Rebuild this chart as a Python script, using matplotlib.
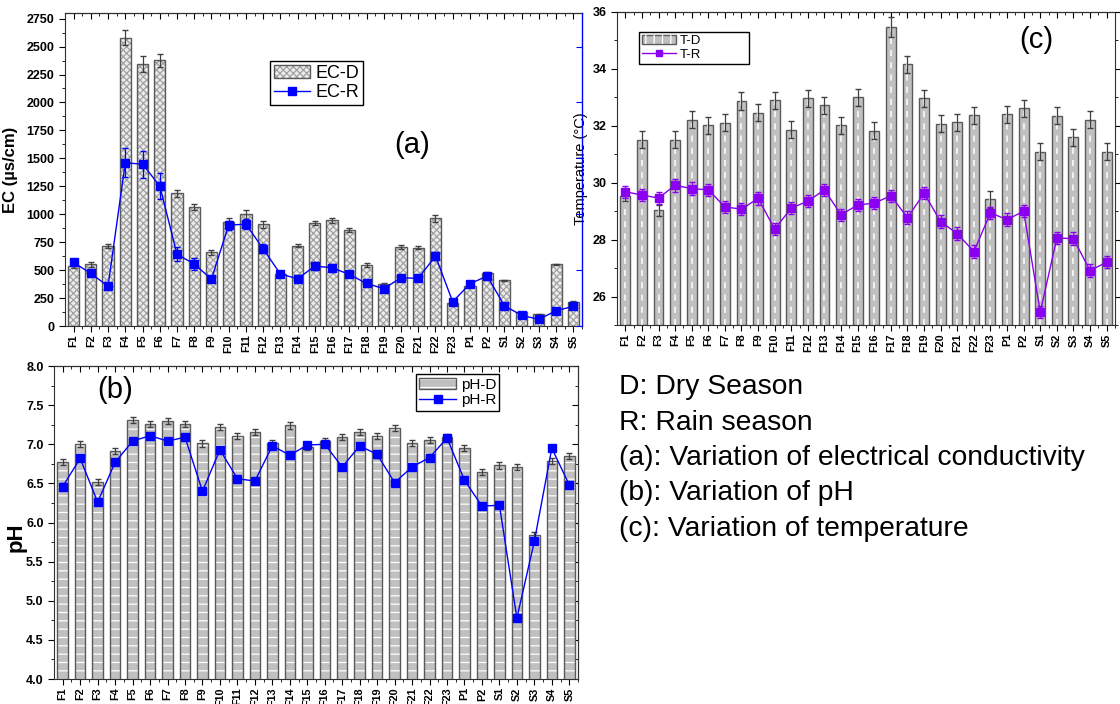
import numpy as np
import matplotlib
matplotlib.use("Agg")
import matplotlib.pyplot as plt
from matplotlib.ticker import MultipleLocator, FixedLocator, FormatStrFormatter

plt.rcParams['font.family'] = ['Liberation Sans', 'DejaVu Sans']
plt.rcParams['hatch.linewidth'] = 0.9

# sites
cats = ['F%d' % i for i in range(1, 24)] + ['P1', 'P2'] + ['S%d' % i for i in range(1, 6)]

# (a) electrical conductivity, us/cm
ec_d = [536, 551, 715, 2580, 2344, 2377, 1186, 1063, 658, 932, 998, 911, 462, 718, 923,
        944, 861, 545, 372, 706, 700, 962, 206, 357, 471, 408, 122, 104, 551, 211]
ec_d_err = [15, 25, 20, 70, 70, 60, 30, 25, 20, 30, 40, 30, 10, 15, 20,
            20, 20, 15, 15, 15, 15, 30, 5, 5, 15, 5, 5, 5, 5, 10]
ec_r = [569, 470, 357, 1460, 1448, 1254, 643, 554, 420, 903, 911, 691, 465, 423, 536,
        521, 462, 381, 334, 432, 426, 626, 217, 378, 447, 182, 95, 60, 137, 176]
ec_r_err = [15, 15, 30, 130, 120, 115, 60, 55, 25, 40, 45, 40, 10, 30, 35,
            35, 25, 10, 10, 15, 25, 35, 10, 10, 10, 10, 10, 10, 10, 10]

# (b) pH
ph_d = [6.77, 7.00, 6.52, 6.91, 7.31, 7.26, 7.30, 7.26, 7.01, 7.22, 7.11, 7.16, 7.01, 7.24, 6.97,
        7.04, 7.09, 7.16, 7.11, 7.21, 7.02, 7.05, 7.09, 6.95, 6.65, 6.73, 6.71, 5.84, 6.79, 6.85]
ph_r = [6.46, 6.82, 6.26, 6.77, 7.04, 7.11, 7.04, 7.09, 6.40, 6.93, 6.56, 6.53, 6.98, 6.86, 6.99,
        7.00, 6.71, 6.98, 6.87, 6.51, 6.71, 6.83, 7.08, 6.54, 6.21, 6.22, 4.78, 5.76, 6.95, 6.48]
ph_err = 0.04

# (c) temperature, deg C
t_d = [29.52, 31.51, 29.03, 31.51, 32.21, 32.02, 32.11, 32.87, 32.46, 32.90, 31.86, 32.96, 32.72, 32.02, 33.01,
       31.82, 35.46, 34.17, 32.96, 32.08, 32.12, 32.37, 29.41, 32.41, 32.62, 31.09, 32.36, 31.60, 32.21, 31.08]
t_d_err = [0.15, 0.3, 0.2, 0.3, 0.3, 0.3, 0.3, 0.3, 0.3, 0.3, 0.3, 0.3, 0.3, 0.3, 0.3,
           0.3, 0.35, 0.3, 0.3, 0.3, 0.3, 0.3, 0.3, 0.3, 0.3, 0.3, 0.3, 0.3, 0.3, 0.3]
t_r = [29.68, 29.57, 29.46, 29.91, 29.79, 29.75, 29.15, 29.07, 29.45, 28.37, 29.11, 29.35, 29.75, 28.87, 29.22,
       29.28, 29.54, 28.77, 29.63, 28.63, 28.21, 27.58, 28.94, 28.70, 29.00, 25.45, 28.06, 28.03, 26.91, 27.21]
t_r_err = 0.22

x = np.arange(1, len(cats) + 1)
BLUE = '#0000ff'
PURPLE = '#8a00f0'
EDGE = '#5a5a5a'
GREY = '#c0c0c0'


def style_axes(ax, ylim, major, minor, right_dir=None):
    ax.set_xlim(0.5, len(cats) + 0.5)
    ax.set_ylim(*ylim)
    ax.set_xticks(x)
    ax.set_xticklabels(cats, rotation=90, fontsize=7.8, fontweight='bold')
    ax.xaxis.set_minor_locator(FixedLocator(x + 0.5))
    ax.tick_params(axis='x', which='major', direction='out', length=4, pad=2)
    ax.tick_params(axis='x', which='minor', direction='out', length=2)
    ax.yaxis.set_major_locator(MultipleLocator(major))
    ax.yaxis.set_minor_locator(MultipleLocator(minor))
    ax.tick_params(axis='y', which='major', direction='out', length=4, labelsize=9)
    ax.tick_params(axis='y', which='minor', direction='out', length=2)
    for s in ax.spines.values():
        s.set_color('#303030')
    top = ax.secondary_xaxis('top')
    top.set_xticks(x, labels=[])
    top.xaxis.set_minor_locator(FixedLocator(x + 0.5))
    top.tick_params(which='major', direction='in', length=4)
    top.tick_params(which='minor', direction='in', length=2)
    if right_dir is not None:
        r = ax.secondary_yaxis('right')
        r.yaxis.set_major_locator(MultipleLocator(major))
        r.yaxis.set_minor_locator(MultipleLocator(minor))
        r.tick_params(which='both', direction=right_dir, labelright=False)
        r.tick_params(which='major', length=4)
        r.tick_params(which='minor', length=2.5)
        r.spines['right'].set_color('#303030')


def bold_yticks(ax):
    for lab in ax.get_yticklabels():
        lab.set_fontweight('bold')


def legend_box(ax, handles, labels, anchor, size, hl, mode=None):
    leg = ax.legend(handles, labels, loc='upper left', bbox_to_anchor=anchor, mode=mode,
                    fontsize=size, handlelength=hl, handletextpad=0.3, borderpad=0.22,
                    labelspacing=0.12, fancybox=False, edgecolor='black', framealpha=1,
                    borderaxespad=0)
    leg.get_frame().set_linewidth(1.0)
    return leg


fig = plt.figure(figsize=(11.2, 7.04), dpi=100)
ax_a = fig.add_axes([0.0580, 0.5369, 0.4616, 0.4446])
ax_c = fig.add_axes([0.5509, 0.5384, 0.4446, 0.4446])
ax_b = fig.add_axes([0.0482, 0.0355, 0.4679, 0.4446])

# ---- (a) EC ----
ax_a.bar(x, ec_d, width=0.65, color='#ececec', lw=0)
ax_a.bar(x, ec_d, width=0.65, color='none', edgecolor='#a2a2a2', lw=0, hatch='xxxxx')
ax_a.bar(x, ec_d, width=0.65, color='none', edgecolor=EDGE, lw=1.0)
ax_a.errorbar(x, ec_d, yerr=ec_d_err, fmt='none', ecolor='#404040', elinewidth=0.9, capsize=2.5)
ax_a.errorbar(x, ec_r, yerr=ec_r_err, color=BLUE, marker='s', ms=6, lw=1.0,
              elinewidth=0.9, capsize=2.5, zorder=5)
style_axes(ax_a, (0, 2800), 250, 125)
bold_yticks(ax_a)
ax_a.spines['right'].set_visible(False)
tw = ax_a.twinx()
tw.set_ylim(0, 2800)
tw.yaxis.set_major_locator(MultipleLocator(500))
tw.tick_params(axis='y', direction='in', length=4, color=BLUE, labelright=False)
tw.spines['right'].set_color(BLUE)
tw.spines['right'].set_linewidth(1.0)
for k in ('top', 'left', 'bottom'):
    tw.spines[k].set_visible(False)
ax_a.set_ylabel('EC (µs/cm)', fontsize=12, fontweight='bold')
ax_a.yaxis.set_label_coords(-0.091, 0.5)
ha = (plt.Rectangle((0, 0), 1, 1, facecolor='#ececec', lw=0),
      plt.Rectangle((0, 0), 1, 1, facecolor='none', edgecolor='#a2a2a2', lw=0, hatch='xxxxx'),
      plt.Rectangle((0, 0), 1, 1, facecolor='none', edgecolor=EDGE, lw=1))
hb, = ax_a.plot([], [], color=BLUE, marker='s', ms=6, lw=1.0)
legend_box(ax_a, [ha, hb], ['EC-D', 'EC-R'], (0.397, 0.847), 13, 2.0)
ax_a.text(0.671, 0.578, '(a)', transform=ax_a.transAxes, fontsize=21, ha='center', va='center')

# ---- (c) temperature ----
ax_c.bar(x, np.array(t_d) - 25, bottom=25, width=0.6, color=GREY, edgecolor=EDGE, lw=1.0)
ax_c.vlines(x, 25, t_d, colors='white', lw=1.1, linestyles=(0, (4, 4)))
ax_c.errorbar(x, t_d, yerr=t_d_err, fmt='none', ecolor='#404040', elinewidth=0.9, capsize=2.5)
ax_c.errorbar(x, t_r, yerr=t_r_err, color=PURPLE, marker='s', ms=6, lw=1.0,
              elinewidth=0.9, capsize=2.5, zorder=5)
style_axes(ax_c, (25, 36), 2, 1)
bold_yticks(ax_c)
ax_c.tick_params(axis='y', which='both', right=True)
ax_c.set_ylabel('Temperature (°C)', fontsize=10.5)
ax_c.yaxis.set_label_coords(-0.058, 0.5)
hc = (plt.Rectangle((0, 0), 1, 1, facecolor=GREY, edgecolor=EDGE, lw=1),
      plt.Rectangle((0, 0), 1, 1, facecolor='none', edgecolor='white', lw=0, hatch='||'))
hd, = ax_c.plot([], [], color=PURPLE, marker='s', ms=5, lw=1.0)
legend_box(ax_c, [hc, hd], ['T-D', 'T-R'], (0.044, 0.936, 0.221, 0.0), 9.5, 2.6, mode='expand')
ax_c.text(0.843, 0.911, '(c)', transform=ax_c.transAxes, fontsize=21, ha='center', va='center')

# ---- (b) pH ----
ph_base = 4.0
ph_h = np.array(ph_d) - ph_base
ax_b.bar(x, ph_h, bottom=ph_base, width=0.6, color=GREY, lw=0)
ax_b.bar(x, ph_h, bottom=ph_base, width=0.6, color='none', edgecolor='white', lw=0, hatch='--')
ax_b.bar(x, ph_h, bottom=ph_base, width=0.6, color='none', edgecolor=EDGE, lw=1.0)
ax_b.errorbar(x, ph_d, yerr=ph_err, fmt='none', ecolor='#404040', elinewidth=0.9, capsize=2.5)
ax_b.errorbar(x, ph_r, yerr=ph_err, color=BLUE, marker='s', ms=6, lw=1.0,
              elinewidth=0.9, capsize=2.5, zorder=5)
style_axes(ax_b, (4.0, 8.0), 0.5, 0.25, right_dir='in')
ax_b.yaxis.set_major_formatter(FormatStrFormatter('%.1f'))
bold_yticks(ax_b)
ax_b.set_ylabel('pH', fontsize=16, fontweight='bold')
ax_b.yaxis.set_label_coords(-0.053, 0.454)
he = (plt.Rectangle((0, 0), 1, 1, facecolor=GREY, lw=0),
      plt.Rectangle((0, 0), 1, 1, facecolor='none', edgecolor='white', lw=0, hatch='--'),
      plt.Rectangle((0, 0), 1, 1, facecolor='none', edgecolor=EDGE, lw=1))
hf, = ax_b.plot([], [], color=BLUE, marker='s', ms=6, lw=1.0)
legend_box(ax_b, [he, hf], ['pH-D', 'pH-R'], (0.691, 0.974), 11, 2.4)
ax_b.text(0.116, 0.923, '(b)', transform=ax_b.transAxes, fontsize=21, ha='center', va='center')

# ---- notes ----
notes = ['D: Dry Season', 'R: Rain season', '(a): Variation of electrical conductivity',
         '(b): Variation of pH', '(c): Variation of temperature']
for i, line in enumerate(notes):
    fig.text(619 / 1120, 1 - (387 + i * 35.5) / 704, line, fontsize=20.3, va='center', ha='left')

fig.savefig('out.png', dpi=100)
